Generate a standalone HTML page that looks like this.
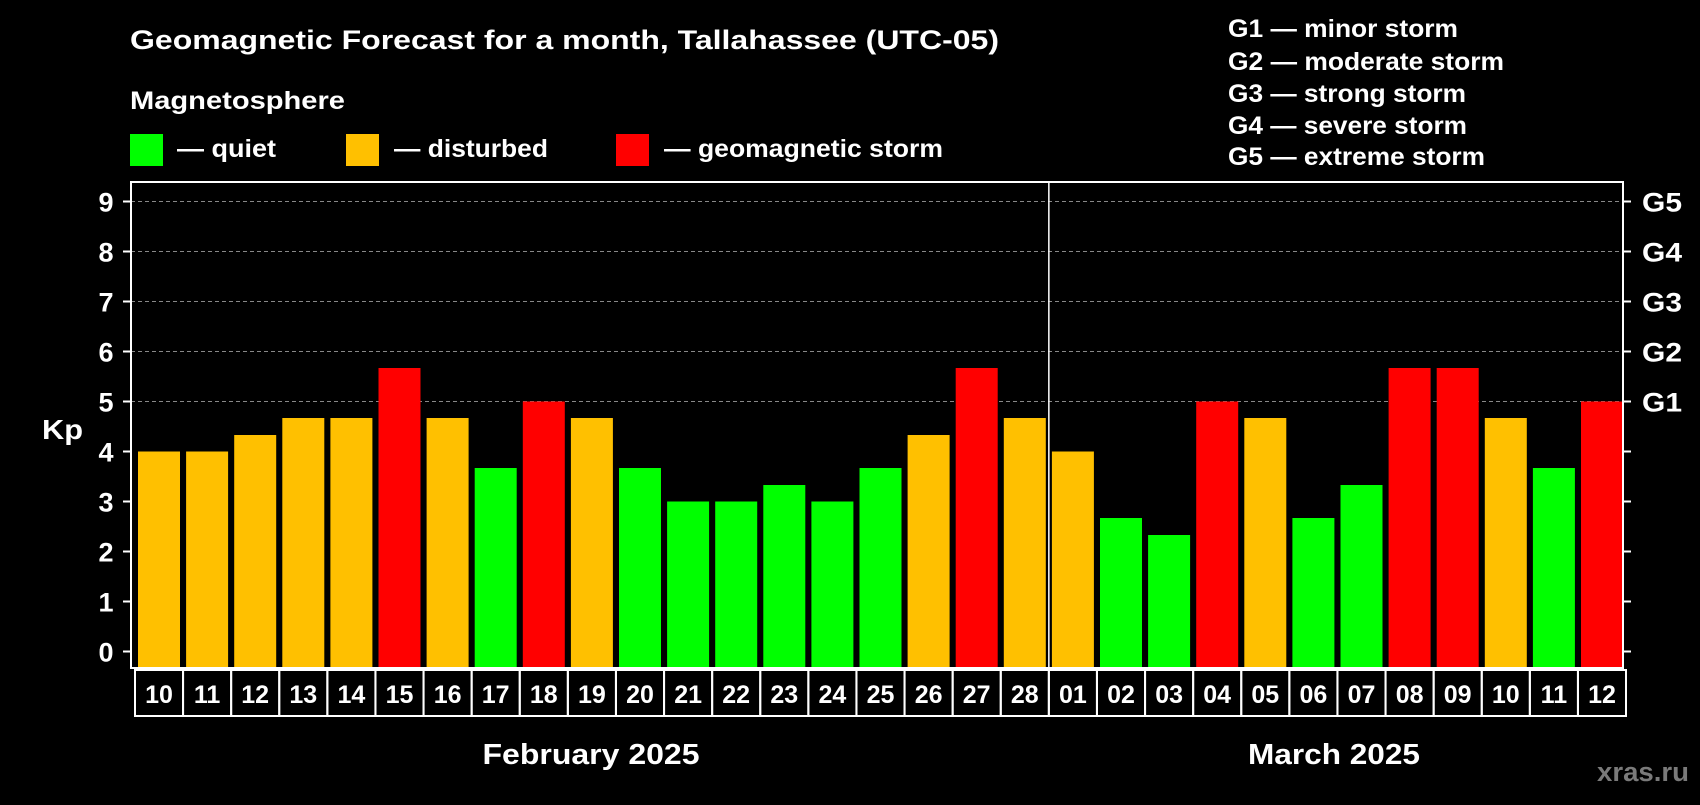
<!DOCTYPE html>
<html><head><meta charset="utf-8"><style>
body{margin:0;background:#000;width:1700px;height:800px;overflow:hidden;font-family:"Liberation Sans",sans-serif;}
svg text{font-family:"Liberation Sans",sans-serif;font-weight:bold;fill:#fff;}
</style></head><body>
<svg id="c" width="1700" height="800">
<text x="130" y="49" font-size="27" textLength="869" lengthAdjust="spacingAndGlyphs">Geomagnetic Forecast for a month, Tallahassee (UTC-05)</text>
<text x="130" y="109" font-size="25" textLength="215" lengthAdjust="spacingAndGlyphs">Magnetosphere</text>
<rect x="130" y="134" width="33" height="32" fill="#00ff00"/>
<text x="177" y="157" font-size="25" textLength="99" lengthAdjust="spacingAndGlyphs">— quiet</text>
<rect x="346" y="134" width="33" height="32" fill="#ffc000"/>
<text x="394" y="157" font-size="25" textLength="154" lengthAdjust="spacingAndGlyphs">— disturbed</text>
<rect x="616" y="134" width="33" height="32" fill="#ff0000"/>
<text x="664" y="157" font-size="25" textLength="279" lengthAdjust="spacingAndGlyphs">— geomagnetic storm</text>
<g font-size="25">
<text x="1228" y="37" textLength="230" lengthAdjust="spacingAndGlyphs">G1 — minor storm</text>
<text x="1228" y="70" textLength="276" lengthAdjust="spacingAndGlyphs">G2 — moderate storm</text>
<text x="1228" y="102" textLength="238" lengthAdjust="spacingAndGlyphs">G3 — strong storm</text>
<text x="1228" y="134" textLength="239" lengthAdjust="spacingAndGlyphs">G4 — severe storm</text>
<text x="1228" y="165" textLength="257" lengthAdjust="spacingAndGlyphs">G5 — extreme storm</text>
</g>
<text x="42" y="439" font-size="28" textLength="41" lengthAdjust="spacingAndGlyphs">Kp</text>
<g id="plot"></g>
<text x="591" y="764" font-size="29" text-anchor="middle" textLength="217" lengthAdjust="spacingAndGlyphs">February 2025</text>
<text x="1334" y="764" font-size="29" text-anchor="middle" textLength="172" lengthAdjust="spacingAndGlyphs">March 2025</text>
<text x="1689" y="781" font-size="27" text-anchor="end" textLength="92" lengthAdjust="spacingAndGlyphs" style="fill:#7a7a7a">xras.ru</text>
</svg>
<script>
const days=["10","11","12","13","14","15","16","17","18","19","20","21","22","23","24","25","26","27","28","01","02","03","04","05","06","07","08","09","10","11","12"];
const kp=[4,4,4.33,4.67,4.67,5.67,4.67,3.67,5,4.67,3.67,3,3,3.33,3,3.67,4.33,5.67,4.67,4,2.67,2.33,5,4.67,2.67,3.33,5.67,5.67,4.67,3.67,5];
const yTicks=[0,1,2,3,4,5,6,7,8,9];
const gLabels=["G1","G2","G3","G4","G5"];
const NS="http://www.w3.org/2000/svg";
const L=131,R=1623,T=182,B=668,pitch=48.1;
const y=v=>651.5-50*v;
const xc=i=>159+pitch*i;
const g=document.getElementById('plot');
function mk(t,a){const e=document.createElementNS(NS,t);for(const k in a)e.setAttribute(k,a[k]);g.appendChild(e);return e;}
for(const v of yTicks){
 if(v>=5){const l=mk('line',{x1:L,x2:R,y1:y(v),y2:y(v),stroke:'#888','stroke-dasharray':'4,3','stroke-width':1});
 
 }
 const t1=mk('line',{x1:L-8,x2:L,y1:y(v),y2:y(v),stroke:'#fff','stroke-width':2});
 
 
 const t2=mk('line',{x1:R,x2:R+8,y1:y(v),y2:y(v),stroke:'#fff','stroke-width':2});
 
 
 const tx=mk('text',{x:106,y:y(v)+10,'font-size':27,'text-anchor':'middle'});tx.textContent=v;
 
 
 if(v>=5){const gt=mk('text',{x:1642,y:y(v)+10,'font-size':27,textLength:40,lengthAdjust:'spacingAndGlyphs'});gt.textContent=gLabels[v-5];
 
 }
}
kp.forEach((v,i)=>{
 const c=v>=5?'#ff0000':v>=4?'#ffc000':'#00ff00';
 const b=mk('rect',{x:xc(i)-21,y:y(v),width:42,height:B-y(v),fill:c});
 
 
 const bx=mk('rect',{x:xc(i)-24,y:670,width:48,height:46,fill:'none',stroke:'#fff','stroke-width':2});
 
 
 const t=mk('text',{x:xc(i),y:703,'font-size':25,'text-anchor':'middle'});t.textContent=days[i];
 
 
});
const fr=mk('rect',{x:L,y:T,width:R-L,height:B-T,fill:'none',stroke:'#fff','stroke-width':2});


const dv=mk('line',{x1:xc(19)-pitch/2,x2:xc(19)-pitch/2,y1:T,y2:B,stroke:'#fff','stroke-width':1.5});


</script>
</body></html>
